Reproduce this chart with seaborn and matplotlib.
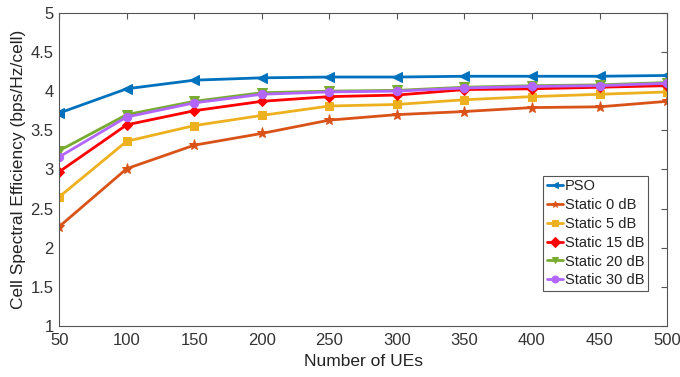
import pandas as pd
import seaborn as sns
import matplotlib.pyplot as plt

# DATA
NUM_UES = [50, 100, 150, 200, 250, 300, 350, 400, 450, 500]
PSO = [3.72, 4.03, 4.14, 4.17, 4.18, 4.18, 4.19, 4.19, 4.19, 4.20]
STATIC_0 = [2.27, 3.01, 3.31, 3.46, 3.63, 3.70, 3.74, 3.79, 3.80, 3.87]
STATIC_5 = [2.65, 3.36, 3.56, 3.69, 3.81, 3.83, 3.89, 3.93, 3.96, 3.99]
STATIC_15 = [2.97, 3.57, 3.75, 3.87, 3.93, 3.95, 4.02, 4.03, 4.05, 4.07]
STATIC_20 = [3.24, 3.70, 3.87, 3.98, 4.00, 4.01, 4.05, 4.07, 4.08, 4.11]
STATIC_30 = [3.16, 3.67, 3.85, 3.96, 3.99, 4.00, 4.04, 4.06, 4.07, 4.10]

SERIES_NAMES = ["PSO", "Static 0 dB", "Static 5 dB", "Static 15 dB", "Static 20 dB", "Static 30 dB"]
SERIES_VALUES = [PSO, STATIC_0, STATIC_5, STATIC_15, STATIC_20, STATIC_30]

COLORS = ["#0072BD", "#D95319", "#EDB120", "#FF0000", "#77AC30", "#B366FF"]
MARKERS = ["<", "*", "s", "D", "v", "o"]
MARKER_SIZES = [7, 8, 6, 5, 7, 6]

OUT_PNG = "out.png"


def build_frame():
    rows = []
    for name, values in zip(SERIES_NAMES, SERIES_VALUES):
        for x, y in zip(NUM_UES, values):
            rows.append({"ues": x, "eff": y, "scheme": name})
    return pd.DataFrame(rows)


def main():
    sns.set_style("white")
    plt.rcParams["font.family"] = ["Liberation Sans", "DejaVu Sans"]

    df = build_frame()
    fig = plt.figure(figsize=(6.8, 3.77), dpi=100)
    ax = fig.add_axes([0.087, 0.135, 0.894, 0.831])

    for name, color, marker, ms in zip(SERIES_NAMES, COLORS, MARKERS, MARKER_SIZES):
        sns.lineplot(data=df[df["scheme"] == name], x="ues", y="eff", ax=ax,
                     color=color, marker=marker, markersize=ms, linewidth=2,
                     markeredgecolor=color, label=name)

    ax.set_xlim(50, 500)
    ax.set_ylim(1, 5)
    ax.set_xticks(range(50, 501, 50))
    ax.set_yticks([1, 1.5, 2, 2.5, 3, 3.5, 4, 4.5, 5])
    ax.set_yticklabels(["1", "1.5", "2", "2.5", "3", "3.5", "4", "4.5", "5"])
    ax.tick_params(direction="in", top=True, right=True, length=4,
                   labelsize=12, colors="#555555", labelcolor="#333333", width=0.8)
    ax.tick_params(axis="x", pad=5)
    ax.tick_params(axis="y", pad=4)
    for spine in ax.spines.values():
        spine.set_color("#555555")
        spine.set_linewidth(0.8)

    ax.set_xlabel("Number of UEs", fontsize=12.5, color="#222222", labelpad=4)
    ax.set_ylabel("Cell Spectral Efficiency (bps/Hz/cell)", fontsize=12.5,
                  color="#222222", labelpad=3)

    leg = ax.legend(loc="lower right", bbox_to_anchor=(0.969, 0.112), fontsize=10.5,
                    handlelength=1.1, handletextpad=0.15, labelspacing=0.33,
                    borderpad=0.25, borderaxespad=0, fancybox=False, framealpha=1)
    leg.get_frame().set_edgecolor("#555555")
    leg.get_frame().set_linewidth(0.8)
    for text in leg.get_texts():
        text.set_color("#222222")
    for h in leg.legend_handles:
        h.set_markersize(5)

    plt.savefig(OUT_PNG, dpi=100)
    plt.close()


if __name__ == "__main__":
    main()
